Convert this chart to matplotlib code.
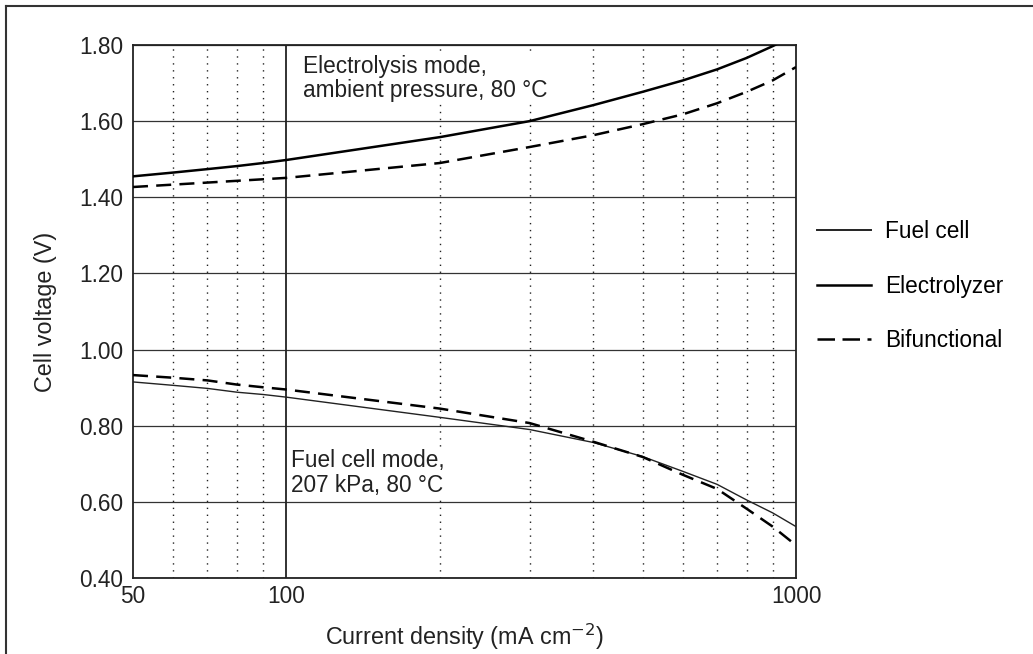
import matplotlib
matplotlib.use("Agg")
import matplotlib.pyplot as plt
from matplotlib.lines import Line2D

plt.rcParams['font.family'] = ['Liberation Sans', 'DejaVu Sans']

# Data
elec_x = [50, 60, 70, 80, 90, 100, 200, 300, 400, 500, 600, 700, 800, 900, 925]
elec_v = [1.455, 1.465, 1.474, 1.482, 1.490, 1.498, 1.558, 1.600, 1.642, 1.677, 1.707, 1.736, 1.766, 1.797, 1.805]

bif_el_x = [50, 100, 200, 300, 400, 500, 600, 700, 800, 900, 1000]
bif_el_v = [1.427, 1.451, 1.490, 1.532, 1.563, 1.592, 1.618, 1.647, 1.677, 1.707, 1.742]

fc_x = [50, 60, 70, 80, 90, 100, 200, 300, 400, 500, 600, 700, 800, 900, 1000]
fc_v = [0.915, 0.906, 0.898, 0.888, 0.882, 0.875, 0.822, 0.790, 0.756, 0.719, 0.680, 0.646, 0.605, 0.571, 0.535]

bif_fc_x = [50, 60, 70, 80, 90, 100, 200, 300, 400, 500, 600, 700, 800, 900, 1000]
bif_fc_v = [0.933, 0.926, 0.919, 0.908, 0.901, 0.895, 0.845, 0.807, 0.758, 0.718, 0.671, 0.634, 0.582, 0.535, 0.486]

yticks = [0.40, 0.60, 0.80, 1.00, 1.20, 1.40, 1.60, 1.80]
xticks = [50, 100, 1000]
minor_x = [60, 70, 80, 90, 200, 300, 400, 500, 600, 700, 800, 900]
legend_labels = ["Fuel cell", "Electrolyzer", "Bifunctional"]

FS = 16.3
fig = plt.figure(figsize=(10.33, 6.54), dpi=100)
ax = fig.add_axes([133/1033, 1 - 578/654, (796-133)/1033, (578-45)/654])

ax.set_xscale('log')
ax.set_xlim(50, 1000)
ax.set_ylim(0.40, 1.80)

# grid
for y in yticks:
    ax.axhline(y, color='#333333', lw=0.9, zorder=1)
for x in minor_x:
    ax.axvline(x, color='#222222', lw=1.0, ls=(0, (1, 4)), zorder=1)
ax.axvline(100, color='#222222', lw=1.3, zorder=1)

dash = (0, (6, 3.3))
ax.plot(elec_x, elec_v, color='black', lw=1.8, zorder=3)
ax.plot(bif_el_x, bif_el_v, color='black', lw=1.8, ls=dash, zorder=3)
ax.plot(fc_x, fc_v, color='#222222', lw=1.0, zorder=3)
ax.plot(bif_fc_x, bif_fc_v, color='black', lw=1.8, ls=dash, zorder=3)

ax.set_xticks(xticks)
ax.set_xticklabels([str(v) for v in xticks])
ax.xaxis.set_minor_locator(matplotlib.ticker.NullLocator())
ax.set_yticks(yticks)
ax.set_yticklabels([f"{v:.2f}" for v in yticks])
ax.tick_params(axis='both', length=0, labelsize=FS, colors='#222222')
ax.tick_params(axis='y', pad=7)
ax.tick_params(axis='x', pad=5)

for s in ax.spines.values():
    s.set_color('#222222')
    s.set_linewidth(1.3)

ax.set_ylabel("Cell voltage (V)", fontsize=FS + 0.5, color='#222222', labelpad=16)
ax.set_xlabel("Current density (mA cm$^{-2}$)", fontsize=FS + 0.5, color='#222222', labelpad=10)

ax.text(0.257, 0.982, "Electrolysis mode,\nambient pressure, 80 °C", transform=ax.transAxes,
        fontsize=FS, va='top', ha='left', color='#222222', linespacing=1.1,
        bbox=dict(facecolor='white', edgecolor='none', pad=1))
ax.text(0.238, 0.242, "Fuel cell mode,\n207 kPa, 80 °C", transform=ax.transAxes,
        fontsize=FS, va='top', ha='left', color='#222222', linespacing=1.1,
        bbox=dict(facecolor='white', edgecolor='none', pad=1))

handles = [Line2D([], [], color='#222222', lw=1.4),
           Line2D([], [], color='black', lw=1.8),
           Line2D([], [], color='black', lw=1.8, ls=(0, (7, 3)))]
fig.legend(handles, legend_labels, loc='center left', bbox_to_anchor=(797/1033, 1 - 286/654),
           frameon=False, fontsize=FS, handlelength=2.35, labelspacing=1.4, handletextpad=0.65)

# page frame (left and top)
fig.add_artist(Line2D([6/1033, 6/1033], [0, 1 - 6/654], transform=fig.transFigure, color='#333333', lw=1.5))
fig.add_artist(Line2D([6/1033, 1], [1 - 6/654, 1 - 6/654], transform=fig.transFigure, color='#333333', lw=1.5))

fig.savefig("out.png", dpi=100)
